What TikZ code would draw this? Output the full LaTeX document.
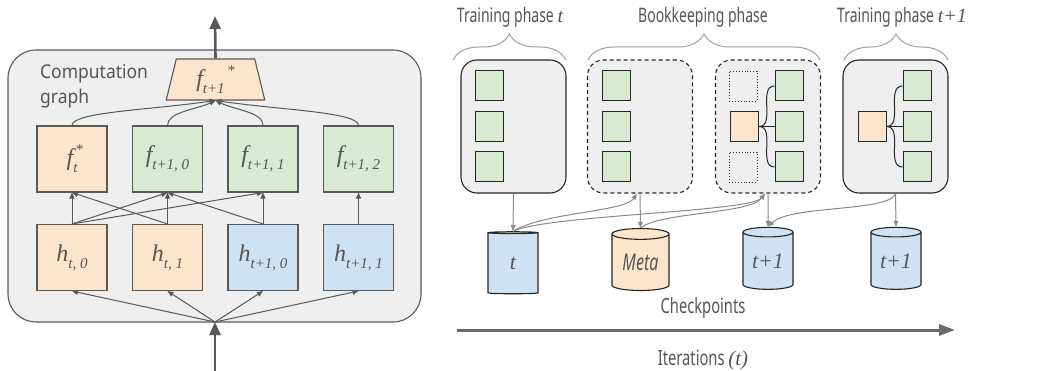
\documentclass[tikz,border=0pt]{standalone}
\usepackage{fontspec}
\setmainfont{Noto Sans}[FakeStretch=0.92]
\newfontfamily\ser{Liberation Serif}
\newfontfamily\cond[FakeStretch=0.7]{Noto Sans}
\usetikzlibrary{shapes.geometric,arrows.meta,decorations.pathreplacing}
\definecolor{orf}{HTML}{FCE5CD}
\definecolor{grf}{HTML}{D9EAD3}
\definecolor{blf}{HTML}{CFE2F3}
\definecolor{panel}{HTML}{EFEFEF}
\definecolor{edge}{HTML}{595959}
\definecolor{txt}{HTML}{555555}
\definecolor{arr}{HTML}{8A8A8A}
\definecolor{brc}{HTML}{A0A0A0}
\newcommand\sym[3]{\mbox{\ser\itshape\fontsize{24}{24}\selectfont #1\fontsize{15}{15}\selectfont\raisebox{-7pt}{\makebox[0pt][l]{\hspace{2pt}\raisebox{18pt}{#3}}#2}}}
\tikzset{
  bigbox/.style={draw=edge, line width=1.1pt, minimum width=70pt, minimum height=66pt, inner sep=0pt, text=txt},
  thinarr/.style={draw=edge, line width=1pt, -{Triangle[length=6pt,width=5pt]}},
  thickarr/.style={draw=edge, line width=2.6pt, -{Triangle[length=13pt,width=11pt]}},
  phasebox/.style={draw=black!85, fill=panel, line width=1.1pt, rounded corners=16pt, minimum width=105pt, minimum height=133pt},
  sq/.style={draw=black!85, line width=1pt, minimum width=28pt, minimum height=30pt, inner sep=0pt},
  ckarr/.style={draw=arr, line width=1pt, -{Triangle[length=6pt,width=4.5pt]}},
  cyl/.style={cylinder, shape border rotate=90, aspect=0.3, draw=black!85, line width=1.1pt, minimum width=50pt, minimum height=60pt, inner sep=0pt, text=txt},
  bracestyle/.style={draw=brc, line width=1pt, decorate, decoration={brace, amplitude=26pt}},
  phaselab/.style={text=txt, font=\cond\fontsize{20}{20}\selectfont},
}
\begin{document}
\begin{tikzpicture}[x=1pt,y=-1pt]
\useasboundingbox (0,0) rectangle (1052,371);
% ---------- left panel ----------
\node[draw=edge, fill=panel, line width=1.1pt, rounded corners=28pt, minimum width=413pt, minimum height=272pt] (cg) at (214.5,186) {};
\node[anchor=north west, align=left, text=txt, font=\fontsize{19}{25}\selectfont, inner sep=0pt] (cgl) at (40,64) {Computation\\graph};
\node[trapezium, trapezium left angle=80, trapezium right angle=80, trapezium stretches=true, draw=edge, fill=orf, line width=1.1pt, minimum width=99pt, minimum height=41pt, inner sep=0pt, text=txt] (top) at (215.5,79.5) {\mbox{\ser\itshape\fontsize{24}{24}\selectfont f\fontsize{15}{15}\selectfont\raisebox{-7pt}{t+1}\raisebox{11pt}{\,*}}};
\node[bigbox, fill=orf] (fs) at (72,159) {\sym{f}{t}{*}};
\node[bigbox, fill=grf] (f0) at (167.5,159) {\sym{f}{t+1, 0}{}};
\node[bigbox, fill=grf] (f1) at (263,159) {\sym{f}{t+1, 1}{}};
\node[bigbox, fill=grf] (f2) at (358.5,159) {\sym{f}{t+1, 2}{}};
\node[bigbox, fill=orf] (h0) at (72,257.5) {\sym{h}{t, 0}{}};
\node[bigbox, fill=orf] (h1) at (167.5,257.5) {\sym{h}{t, 1}{}};
\node[bigbox, fill=blf] (h2) at (263,257.5) {\sym{h}{t+1, 0}{}};
\node[bigbox, fill=blf] (h3) at (358.5,257.5) {\sym{h}{t+1, 1}{}};
\coordinate (inp) at (215,322);
\coordinate (src) at (215,371);
\coordinate (outp) at (215,16);
\draw[thickarr] (src) -- (inp);
\draw[thickarr] (top.north) -- (outp);
\foreach \b in {h0,h1,h2,h3} \draw[thinarr] (inp) -- (\b.south);
\draw[thinarr] (h0.north) -- (fs.south);
\draw[thinarr] (h0.north) -- (f0.south);
\draw[thinarr] (h0.north) -- (f1.south);
\draw[thinarr] (h1.north) -- (fs.south);
\draw[thinarr] (h1.north) -- (f0.south);
\draw[thinarr] (h2.north) -- (f0.south);
\draw[thinarr] (h2.north) -- (f1.south);
\draw[thinarr] (h3.north) -- (f2.south);
\coordinate (tb) at (215.5,100.5);
\draw[thinarr] (fs.north) .. controls (72,112) and (150,110) .. (tb);
\draw[thinarr] (f0.north) .. controls (167.5,112) and (195,110) .. (tb);
\draw[thinarr] (f1.north) .. controls (263,112) and (235,110) .. (tb);
\draw[thinarr] (f2.north) .. controls (358.5,112) and (280,110) .. (tb);
% ---------- right panel ----------
\node[phaselab] (lt1) at (510,17) {Training phase {\ser\itshape t}};
\node[phaselab] (lbk) at (703,17) {Bookkeeping phase};
\node[phaselab] (lt2) at (902,17) {Training phase {\ser\itshape t+1}};
\draw[bracestyle] (453,60) -- (566,60);
\draw[bracestyle] (588,60) -- (820,60);
\draw[bracestyle] (844,60) -- (948,60);
\node[phasebox] (tr1) at (513.5,126.5) {};
\node[phasebox, dashed, dash pattern=on 4pt off 3pt] (bk1) at (640,126.5) {};
\node[phasebox, dashed, dash pattern=on 4pt off 3pt] (bk2) at (768,126.5) {};
\node[phasebox] (tr2) at (895.5,126.5) {};
% squares
\node[sq, fill=grf] (a1) at (489.5,86) {};
\node[sq, fill=grf] (a2) at (489.5,126.5) {};
\node[sq, fill=grf] (a3) at (489.5,167) {};
\node[sq, fill=grf] (b1) at (616.5,86) {};
\node[sq, fill=grf] (b2) at (616.5,126.5) {};
\node[sq, fill=grf] (b3) at (616.5,167) {};
\node[sq, draw=black!80, line width=0.9pt, dotted] (c1) at (743,86) {};
\node[sq, draw=black!80, line width=0.9pt, dotted] (c3) at (743,167) {};
\node[sq, fill=orf] (co) at (744.5,126.5) {};
\node[sq, fill=grf] (d1) at (789,86) {};
\node[sq, fill=grf] (d2) at (789,126.5) {};
\node[sq, fill=grf] (d3) at (789,167) {};
\node[sq, fill=orf] (eo) at (872,126.5) {};
\node[sq, fill=grf] (e1) at (917,86) {};
\node[sq, fill=grf] (e2) at (917,126.5) {};
\node[sq, fill=grf] (e3) at (917,167) {};
\foreach \g in {d1,d2,d3} \draw[black!85, line width=1pt] (co.east) to[out=0,in=180] (\g.west);
\foreach \g in {e1,e2,e3} \draw[black!85, line width=1pt] (eo.east) to[out=0,in=180] (\g.west);
% cylinders
\node[cyl, fill=blf, minimum height=62pt] (k1) at (513,263.5) {\raisebox{-7pt}{\ser\itshape\fontsize{22}{22}\selectfont t}};
\node[cyl, fill=orf, minimum width=57pt, minimum height=62pt] (k2) at (640.5,262.5) {\raisebox{-7pt}{\cond\itshape\fontsize{23}{23}\selectfont Meta}};
\node[cyl, fill=blf, minimum height=62pt] (k3) at (768,261) {\raisebox{-7pt}{\ser\itshape\fontsize{22}{22}\selectfont t+1}};
\node[cyl, fill=blf, minimum height=62pt] (k4) at (896,261) {\raisebox{-7pt}{\ser\itshape\fontsize{22}{22}\selectfont t+1}};
% checkpoint arrows
\draw[ckarr] (tr1.south) -- (k1.north);
\draw[ckarr] (bk1.south) -- (k2.north);
\draw[ckarr] (bk2.south) -- (k3.north);
\draw[ckarr] (tr2.south) -- (k4.north);
\draw[ckarr] (k1.north) .. controls (545,212) and (625,212) .. ([xshift=-3pt]bk1.south);
\draw[ckarr] (k1.north) .. controls (548,215) and (750,212) .. ([xshift=-3pt]bk2.south);
\draw[ckarr] (k2.north) .. controls (660,212) and (750,214) .. ([xshift=-3pt]bk2.south);
\draw[ckarr] (tr2.south) .. controls (890,212) and (790,205) .. (k3.north);
% timeline
\node[phaselab, font=\cond\fontsize{21}{21}\selectfont] (ckl) at (703,308) {Checkpoints};
\coordinate (tl0) at (457,330);
\coordinate (tl1) at (955,330);
\draw[draw=edge!90, line width=3pt, -{Triangle[length=16pt,width=11pt]}] (tl0) -- (tl1);
\node[phaselab, font=\cond\fontsize{21}{21}\selectfont] (itl) at (703,360) {Iterations {\ser\itshape (t)}};
\end{tikzpicture}
\end{document}
